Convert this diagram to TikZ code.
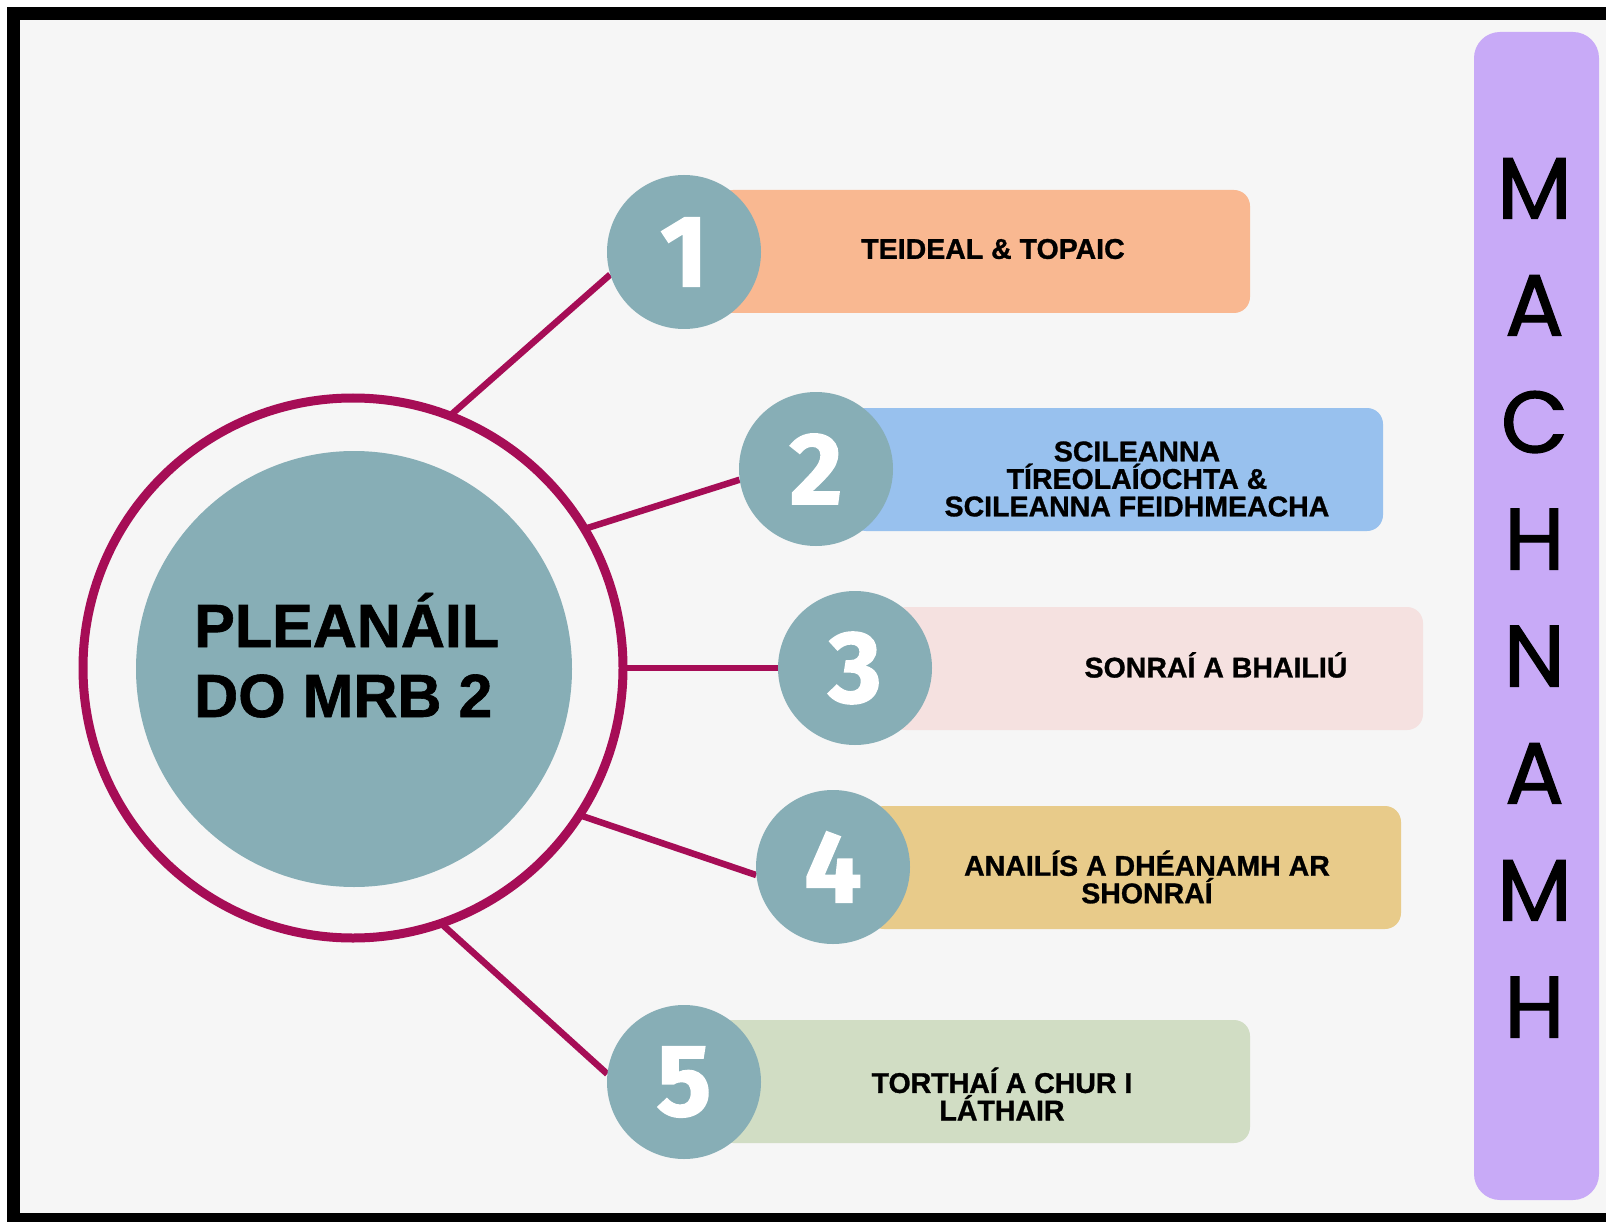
\documentclass[tikz,border=0pt]{standalone}
\usepackage{fontspec}
\setmainfont{Liberation Sans}[BoldFeatures={FakeBold=1}]
\newfontfamily\boxfont{Fira Sans}[BoldFeatures={FakeBold=1.5}]
\newfontfamily\letterfont{Poppins}[FakeBold=1.5]
\definecolor{bgc}{HTML}{F6F6F6}
\definecolor{teal}{HTML}{87AEB6}
\definecolor{mag}{HTML}{A60D56}
\definecolor{peach}{HTML}{F9B891}
\definecolor{skyb}{HTML}{98C1EE}
\definecolor{rosy}{HTML}{F5E1E0}
\definecolor{gold}{HTML}{E8CB8A}
\definecolor{sage}{HTML}{D1DDC4}
\definecolor{lilac}{HTML}{C8AAF7}
\pgfdeclarelayer{bg}
\pgfdeclarelayer{lines}
\pgfsetlayers{bg,lines,main}
\tikzset{
  numc/.style={circle, fill=teal, minimum size=154pt, inner sep=0pt, text=white,
    font=\boxfont\bfseries\fontsize{102}{102}\selectfont},
  stepbox/.style={rectangle, rounded corners=16pt, minimum width=533pt, minimum height=123pt, inner sep=0pt},
  lbl/.style={align=center, inner sep=0pt, font=\bfseries\fontsize{28.5}{27.5}\selectfont},
  conn/.style={draw=mag, line width=6.5pt},
  letter/.style={inner sep=0pt, text height=61pt, text depth=0pt,
    font=\letterfont\fontsize{87}{87}\selectfont},
}
\begin{document}
\begin{tikzpicture}[x=1pt,y=-1pt]
\useasboundingbox (0,0) rectangle (1606,1222);
\begin{pgfonlayer}{bg}
\fill[white] (0,0) rectangle (1606,1222);
\fill[black] (7,7) rectangle (1606,1222);
\fill[bgc] (20,20) rectangle (1606,1213);
\end{pgfonlayer}
% central
\node[circle, draw=mag, line width=9pt, minimum size=540pt, outer sep=0pt, inner sep=0pt] (ring) at (353,668) {};
\node[circle, fill=teal, minimum size=436pt, inner sep=0pt] (core) at (354,669) {};
\node[align=left, inner sep=0pt, anchor=base west, font=\bfseries\fontsize{61}{70}\selectfont] (title) at (194,717) {PLEANÁIL\\DO MRB 2};
% boxes
\node[stepbox, fill=peach] (b1) at (983.5,251.5) {};
\node[stepbox, fill=skyb] (b2) at (1116.5,469.5) {};
\node[stepbox, fill=rosy] (b3) at (1156.5,668.5) {};
\node[stepbox, fill=gold] (b4) at (1134.5,867.5) {};
\node[stepbox, fill=sage] (b5) at (983.5,1081.5) {};
% number circles
\node[numc] (n1) at (684,252) {1};
\node[numc] (n2) at (816,469) {2};
\node[numc] (n3) at (855,668) {3};
\node[numc] (n4) at (833,867) {4};
\node[numc] (n5) at (684,1082) {5};
% labels
\node[lbl] (t1) at (993,249) {TEIDEAL \& TOPAIC};
\node[lbl] (t2) at (1137,479) {SCILEANNA\\TÍREOLAÍOCHTA \&\\SCILEANNA FEIDHMEACHA};
\node[lbl] (t3) at (1216,665) {SONRAÍ A BHAILIÚ};
\node[lbl] (t4) at (1147,877) {ANAILÍS A DHÉANAMH AR\\SHONRAÍ};
\node[lbl] (t5) at (1002,1094) {TORTHAÍ A CHUR I\\LÁTHAIR};
% connectors
\begin{pgfonlayer}{lines}
\draw[conn] (ring.69) -- (n1.197);
\draw[conn] (ring.31) -- (n2.188);
\draw[conn] (ring.0) -- (n3.180);
\draw[conn] (ring.-33) -- (n4.186);
\draw[conn] (ring.-71) -- (n5.174);
\end{pgfonlayer}
% side bar
\node[rectangle, rounded corners=26pt, fill=lilac, minimum width=125pt, minimum height=1168pt, inner sep=0pt] (bar) at (1536.5,616) {};
\foreach \ch [count=\i from 0] in {M,A,C,H,N,A,M,H} {
  \node[letter] (l\i) at (1534.5,188+117*\i) {\ch};
}
\end{tikzpicture}
\end{document}
